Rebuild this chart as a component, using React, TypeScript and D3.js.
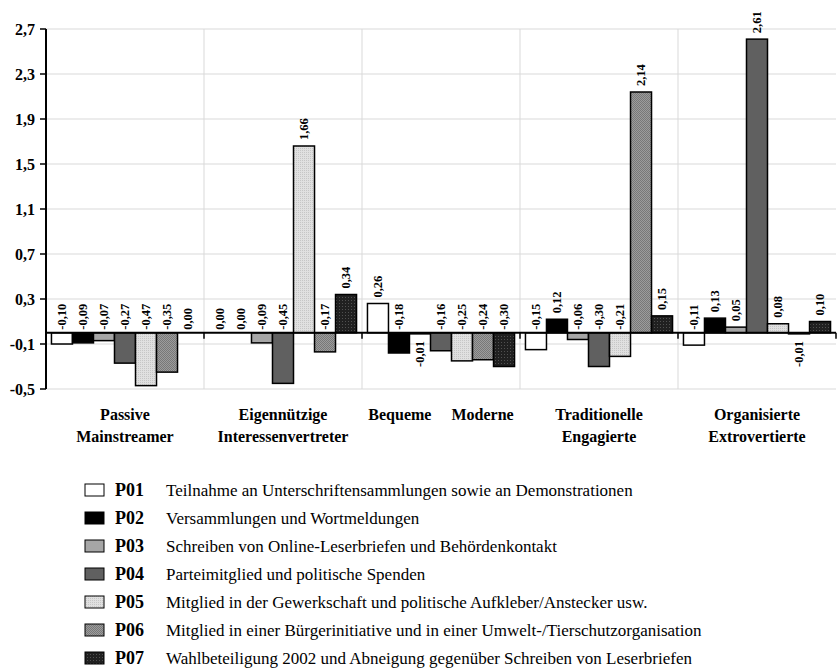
import React from 'react';
import * as d3 from 'd3';

// categories (one group per type)
const groupLines: string[][] = [
  ['Passive', 'Mainstreamer'],
  ['Eigennützige', 'Interessenvertreter'],
  ['Bequeme     Moderne'],
  ['Traditionelle', 'Engagierte'],
  ['Organisierte', 'Extrovertierte'],
];
const groups = groupLines.map(l => l.join(' '));

const seriesKeys = ['P01', 'P02', 'P03', 'P04', 'P05', 'P06', 'P07'];
const seriesNames = [
  'Teilnahme an Unterschriftensammlungen sowie an Demonstrationen',
  'Versammlungen und Wortmeldungen',
  'Schreiben von Online-Leserbriefen und Behördenkontakt',
  'Parteimitglied und politische Spenden',
  'Mitglied in der Gewerkschaft und politische Aufkleber/Anstecker usw.',
  'Mitglied in einer Bürgerinitiative und in einer Umwelt-/Tierschutzorganisation',
  'Wahlbeteiligung 2002 und Abneigung gegenüber Schreiben von Leserbriefen',
];

// values per series, in group order
const p01 = [-0.10, 0.00, 0.26, -0.15, -0.11];
const p02 = [-0.09, 0.00, -0.18, 0.12, 0.13];
const p03 = [-0.07, -0.09, -0.01, -0.06, 0.05];
const p04 = [-0.27, -0.45, -0.16, -0.30, 2.61];
const p05 = [-0.47, 1.66, -0.25, -0.21, 0.08];
const p06 = [-0.35, -0.17, -0.24, 2.14, -0.01];
const p07 = [0.00, 0.34, -0.30, 0.15, 0.10];
const seriesValues = [p01, p02, p03, p04, p05, p06, p07];

const yTicks = [-0.5, -0.1, 0.3, 0.7, 1.1, 1.5, 1.9, 2.3, 2.7];

const fills = ['#ffffff', '#000000', '#a6a6a6', '#606060', 'url(#pat5)', 'url(#pat6)', 'url(#pat7)'];

const locale = d3.formatLocale({
  decimal: ',',
  thousands: '.',
  grouping: [3],
  currency: ['', '€'],
  minus: '-',
});
const fmt2 = locale.format('.2f');
const fmt1 = locale.format('.1f');

const W = 837;
const H = 671;
const left = 46;
const right = 836;
const top = 29;
const bottom = 389;

export default function App() {
  const x0 = d3.scaleBand<string>().domain(groups).range([left, right]).padding(0);
  const x1 = d3
    .scaleBand<string>()
    .domain(seriesKeys)
    .range([0, x0.bandwidth()])
    .paddingInner(0)
    .paddingOuter(0.26);
  const y = d3.scaleLinear().domain([-0.5, 2.7]).range([bottom, top]);
  const y0 = y(0);

  const serif = '"Liberation Serif", "Times New Roman", serif';

  return (
    <svg
      width={W}
      height={H}
      style={{ position: 'absolute', left: 0, top: 0, background: '#fff' }}
      fontFamily={serif}
    >
      <defs>
        <pattern id="pat5" width="2" height="2" patternUnits="userSpaceOnUse">
          <rect width="2" height="2" fill="#e0e0e0" />
          <rect width="1" height="1" fill="#c6c6c6" />
        </pattern>
        <pattern id="pat6" width="2" height="2" patternUnits="userSpaceOnUse">
          <rect width="2" height="2" fill="#9c9c9c" />
          <rect width="1" height="1" fill="#787878" />
          <rect x="1" y="1" width="1" height="1" fill="#787878" />
        </pattern>
        <pattern id="pat7" width="3" height="3" patternUnits="userSpaceOnUse">
          <rect width="3" height="3" fill="#202020" />
          <rect width="1" height="1" fill="#505050" />
        </pattern>
      </defs>

      {/* horizontal grid */}
      {yTicks.map(t => (
        <line key={'h' + t} x1={left} x2={right} y1={y(t)} y2={y(t)} stroke="#d9d9d9" strokeWidth={1} />
      ))}
      {/* vertical grid at group boundaries */}
      {groups.slice(1).map(g => (
        <line key={'v' + g} x1={x0(g)} x2={x0(g)} y1={top} y2={bottom} stroke="#d9d9d9" strokeWidth={1} />
      ))}

      {/* bars */}
      {groups.map((g, gi) =>
        seriesKeys.map((k, si) => {
          const v = seriesValues[si][gi];
          const bx = (x0(g) as number) + (x1(k) as number);
          const yy = y(Math.max(0, v));
          const hh = Math.abs(y(v) - y0);
          return (
            <rect
              key={g + k}
              x={bx}
              y={yy}
              width={x1.bandwidth()}
              height={hh}
              fill={fills[si]}
              stroke="#000"
              strokeWidth={1.5}
            />
          );
        })
      )}

      {/* zero line with ticks */}
      <line x1={left} x2={right} y1={y0} y2={y0} stroke="#000" strokeWidth={2} />
      {groups.map(g => (
        <line
          key={'t' + g}
          x1={(x0(g) as number) + x0.bandwidth()}
          x2={(x0(g) as number) + x0.bandwidth()}
          y1={y0}
          y2={y0 + 6}
          stroke="#000"
          strokeWidth={1.5}
        />
      ))}

      {/* y axis */}
      <line x1={left} x2={left} y1={top} y2={bottom} stroke="#000" strokeWidth={2} />
      {yTicks.map(t => (
        <g key={'yt' + t}>
          <line x1={left - 6} x2={left} y1={y(t)} y2={y(t)} stroke="#000" strokeWidth={1.5} />
          <text x={left - 11} y={y(t)} dy="0.35em" textAnchor="end" fontSize={16} fontWeight="bold">
            {fmt1(t)}
          </text>
        </g>
      ))}

      {/* value labels */}
      {groups.map((g, gi) =>
        seriesKeys.map((k, si) => {
          const v = seriesValues[si][gi];
          const cx = (x0(g) as number) + (x1(k) as number) + x1.bandwidth() / 2;
          const below = v < 0 && v > -0.02;
          let ay: number;
          let anchor: string;
          if (below) {
            ay = y(v) + 7;
            anchor = 'end';
          } else if (v > 0) {
            ay = y(v) - 6;
            anchor = 'start';
          } else {
            ay = y0 - 3;
            anchor = 'start';
          }
          return (
            <text
              key={'l' + g + k}
              transform={`translate(${cx},${ay}) rotate(-90)`}
              dy="0.35em"
              textAnchor={anchor}
              fontSize={12.5}
              fontWeight="bold"
            >
              {fmt2(v)}
            </text>
          );
        })
      )}

      {/* category labels */}
      {groups.map((g, gi) => (
        <text
          key={'c' + g}
          x={(x0(g) as number) + x0.bandwidth() / 2}
          y={420}
          textAnchor="middle"
          fontSize={16}
          fontWeight="bold"
          style={{ whiteSpace: 'pre' }}
        >
          {groupLines[gi].map((line, li) => (
            <tspan key={li} x={(x0(g) as number) + x0.bandwidth() / 2} dy={li === 0 ? 0 : 22}>
              {line}
            </tspan>
          ))}
        </text>
      ))}

      {/* legend */}
      {seriesKeys.map((k, i) => {
        const cy = 490 + i * 28;
        return (
          <g key={'lg' + k}>
            <rect x={85} y={cy - 6} width={19} height={12} fill={fills[i]} stroke="#000" strokeWidth={1} />
            <text x={115} y={cy} dy="0.35em" fontSize={18} fontWeight="bold">
              {k}
            </text>
            <text x={166} y={cy} dy="0.35em" fontSize={17}>
              {seriesNames[i]}
            </text>
          </g>
        );
      })}
    </svg>
  );
}
